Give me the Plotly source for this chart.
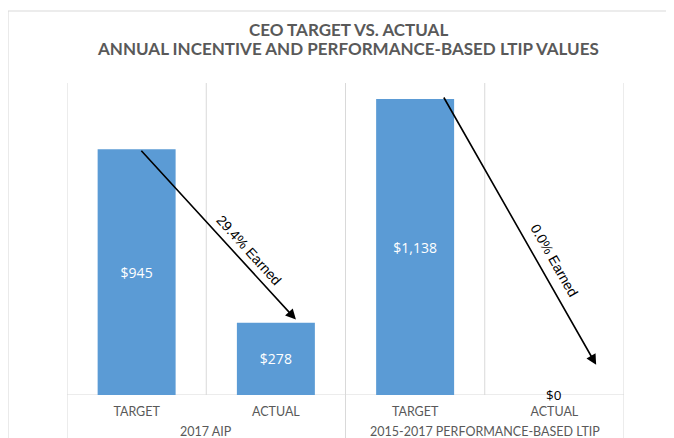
import plotly.graph_objects as go

categories = ["TARGET", "ACTUAL", "TARGET", "ACTUAL"]
groups = ["2017 AIP", "2015-2017 PERFORMANCE-BASED LTIP"]
values = [945, 278, 1138, 0]
value_labels = ["$945", "$278", "$1,138", "$0"]
earned_labels = ["29.4% Earned", "0.0% Earned"]

title_line1 = "CEO TARGET VS. ACTUAL"
title_line2 = "ANNUAL INCENTIVE AND PERFORMANCE-BASED LTIP VALUES"

BLUE = "#5b9bd5"
GRID = "#d9d9d9"
GRAY = "#595959"

xs = list(range(len(categories)))

fig = go.Figure()
fig.add_trace(go.Bar(
    x=xs, y=values,
    width=0.56,
    marker=dict(color=BLUE, line=dict(width=0)),
    text=[t if v > 0 else "" for t, v in zip(value_labels, values)],
    textposition="inside", insidetextanchor="middle",
    textfont=dict(family="Open Sans", size=14, color="white"),
    hoverinfo="skip",
))

shapes = []
# category boundary gridlines
for b in [-0.5, 0.5, 1.5, 2.5, 3.5]:
    shapes.append(dict(type="line", xref="x", yref="paper", x0=b, x1=b, y0=0, y1=1,
                       line=dict(color=GRID, width=1), layer="below"))
# group dividers extending below axis
for b in [-0.5, 1.5, 3.5]:
    shapes.append(dict(type="line", xref="x", yref="paper", x0=b, x1=b, y0=0, y1=-0.2,
                       line=dict(color=GRID, width=1), layer="below"))
# baseline
shapes.append(dict(type="line", xref="paper", yref="y", x0=0, x1=1, y0=0, y1=0,
                   line=dict(color=GRID, width=1), layer="below"))
# chart frame
shapes.append(dict(type="rect", xref="paper", yref="paper", x0=-0.106, x1=1.2, y0=-0.3, y1=1.2308,
                   line=dict(color=GRID, width=1.2), fillcolor="rgba(0,0,0,0)", layer="below"))

annotations = []
# group labels
for gi, g in enumerate(groups):
    annotations.append(dict(x=gi * 2 + 0.5, y=-0.118, xref="x", yref="paper", text=g,
                            showarrow=False, yanchor="middle",
                            font=dict(family="Lato", size=12.5, color=GRAY)))
# $0 label
annotations.append(dict(x=3, y=values[3], xref="x", yref="y", text=value_labels[3],
                        showarrow=False, yanchor="middle", yshift=0,
                        font=dict(family="Open Sans", size=13.5, color="black")))
# arrows
annotations.append(dict(x=1.144, y=290, ax=0.024, ay=values[0], xref="x", yref="y",
                        axref="x", ayref="y", text="", showarrow=True, arrowhead=2,
                        arrowsize=1.3, arrowwidth=1.6, arrowcolor="black"))
annotations.append(dict(x=3.30, y=116, ax=2.20, ay=1150, xref="x", yref="y",
                        axref="x", ayref="y", text="", showarrow=True, arrowhead=2,
                        arrowsize=1.3, arrowwidth=1.6, arrowcolor="black"))
annotations.append(dict(x=0.807, y=559, xref="x", yref="y", text=earned_labels[0],
                        showarrow=False, textangle=47.8,
                        font=dict(family="Liberation Sans", size=14, color="black")))
annotations.append(dict(x=3.004, y=517, xref="x", yref="y", text=earned_labels[1],
                        showarrow=False, textangle=60.3,
                        font=dict(family="Liberation Sans", size=14, color="black")))
# title
annotations.append(dict(x=0.505, y=1.17, xref="paper", yref="paper", text=title_line1,
                        showarrow=False, yanchor="middle",
                        font=dict(family="Lato", size=17, color=GRAY, weight="bold")))
annotations.append(dict(x=0.505, y=1.11, xref="paper", yref="paper", text=title_line2,
                        showarrow=False, yanchor="middle",
                        font=dict(family="Lato", size=17, color=GRAY, weight="bold")))

fig.update_layout(
    width=674, height=438,
    margin=dict(l=59, r=58, t=75, b=51),
    paper_bgcolor="white", plot_bgcolor="white",
    showlegend=False,
    shapes=shapes, annotations=annotations,
    xaxis=dict(range=[-0.5, 3.5], tickvals=xs, ticktext=categories, showgrid=False,
               zeroline=False, showline=False, ticks="", ticklabelstandoff=7,
               tickfont=dict(family="Lato", size=12.5, color=GRAY), fixedrange=True),
    yaxis=dict(range=[0, 1200], visible=False, fixedrange=True),
)

fig.write_html("out.html")
